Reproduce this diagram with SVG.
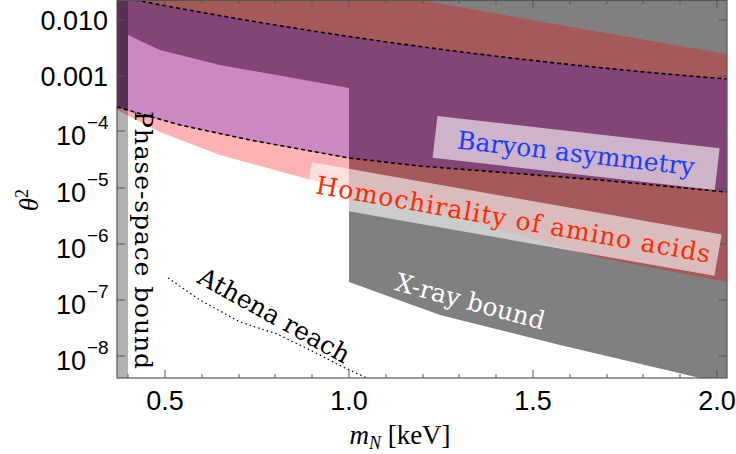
<svg xmlns="http://www.w3.org/2000/svg" width="736" height="454" viewBox="0 0 736 454">
<style>
.tk{font-family:"Liberation Sans",Arial,sans-serif;font-size:27px;fill:#000}
.ex{font-family:"Liberation Sans",Arial,sans-serif;font-size:19px;fill:#000}
.lb{font-family:"DejaVu Serif",serif;font-size:25px}
.t{stroke:#555;stroke-width:1}
.dash{fill:none;stroke:#000;stroke-width:1.6;stroke-dasharray:4,3}
</style>
<rect width="736" height="454" fill="#fff"/>
<g id="xray">
<path d="M117,0 L727,0 L727,378 L700,378 L560,345 L440,315 L349,282 L349,88 L220,65 L160,48 L128,35 L117,30 Z" fill="#808080"/>
</g>
<g id="homochirality">
<path d="M117,0 L420,0 Q560,25 727,54 L727,282 L600,258 L450,215 L349,190 L300,177 L220,155 L160,132 L117,110 Z" fill="#ff0000" fill-opacity="0.3"/>
</g>
<g id="baryon">
<path d="M135,0 Q420,55 727,79 L727,192 L600,180 L420,166 L349,158 L250,140 L180,125 L117,107 L117,0 Z" fill="#834478"/>
<path d="M128,35 L160,50 L220,65 L349,88 L349,158 L250,140 L180,125 L128,111 Z" fill="#cc88c0"/>
</g>
<g id="phase-space">
<rect x="117" y="0" width="11" height="378" fill="#000" fill-opacity="0.3"/>
</g>
<g id="connectors">
<path class="dash" d="M135,0 Q420,55 727,79"/>
<path class="dash" d="M117,107 L180,125 L250,140 L349,158 L420,166 L600,180 L727,192"/>
<path d="M168,278 L200,300 L240,322 L277,334 L310,350 L343,367 L367,378" fill="none" stroke="#000" stroke-width="1.2" stroke-dasharray="1.5,3"/>
</g>
<g id="frame">
<rect x="117" y="0.5" width="610" height="377.5" fill="none" stroke="#555" stroke-width="1.2"/>
<path class="t" d="M165,378v-8M349,378v-8M533,378v-8M717,378v-8M165,0v8M349,0v8M533,0v8M717,0v8
M202,378v-4M239,378v-4M275,378v-4M312,378v-4M386,378v-4M423,378v-4M459,378v-4M496,378v-4M570,378v-4M607,378v-4M643,378v-4M680,378v-4
M128,378v-4M202,0v4M239,0v4M275,0v4M312,0v4M386,0v4M423,0v4M459,0v4M496,0v4M570,0v4M607,0v4M643,0v4M680,0v4
M117,20h8M117,76h8M117,131h8M117,188h8M117,244h8M117,300h8M117,356h8
M727,20h-8M727,76h-8M727,131h-8M727,188h-8M727,244h-8M727,300h-8M727,356h-8"/>
</g>
<g id="axes-labels">
<text class="tk" x="108" y="30" text-anchor="end">0.010</text>
<text class="tk" x="108" y="86" text-anchor="end">0.001</text>
<text class="tk" x="86" y="145" text-anchor="end">10</text><text class="ex" x="87" y="129">−4</text>
<text class="tk" x="86" y="202" text-anchor="end">10</text><text class="ex" x="87" y="186">−5</text>
<text class="tk" x="86" y="258" text-anchor="end">10</text><text class="ex" x="87" y="242">−6</text>
<text class="tk" x="86" y="314" text-anchor="end">10</text><text class="ex" x="87" y="298">−7</text>
<text class="tk" x="86" y="370" text-anchor="end">10</text><text class="ex" x="87" y="354">−8</text>
<text class="tk" x="165" y="410" text-anchor="middle">0.5</text>
<text class="tk" x="349" y="410" text-anchor="middle">1.0</text>
<text class="tk" x="533" y="410" text-anchor="middle">1.5</text>
<text class="tk" x="717" y="410" text-anchor="middle">2.0</text>
<text x="400" y="444" text-anchor="middle" font-family="Liberation Serif,serif" font-size="27"><tspan font-style="italic">m</tspan><tspan font-style="italic" font-size="18" dy="5">N</tspan><tspan dy="-5"> [keV]</tspan></text>
<text transform="translate(38,200) rotate(-90)" text-anchor="middle" font-family="Liberation Serif,serif" font-size="27" font-style="italic">θ<tspan font-style="normal" font-size="18" dy="-10">2</tspan></text>
</g>
<g id="label-baryon" transform="translate(576,154) rotate(6.5)">
<rect x="-142" y="-22" width="284" height="42" fill="#ffffff" fill-opacity="0.6"/>
<text class="lb" x="0" y="8" text-anchor="middle" fill="#1a3cff">Baryon asymmetry</text>
</g>
<g id="label-homo" transform="translate(513,220) rotate(10)">
<rect x="-208" y="-22" width="416" height="42" fill="#ffffff" fill-opacity="0.6"/>
<text class="lb" x="0" y="8" text-anchor="middle" fill="#ff2a00" textLength="400">Homochirality of amino acids</text>
</g>
<g id="label-xray" transform="translate(470,302) rotate(15)">
<text class="lb" x="0" y="8" text-anchor="middle" fill="#fff">X-ray bound</text>
</g>
<g id="label-athena" transform="translate(274,316) rotate(29)">
<text class="lb" x="0" y="8" text-anchor="middle" fill="#000">Athena reach</text>
</g>
<g id="label-phase" transform="translate(143,240) rotate(90)">
<text class="lb" x="0" y="8" text-anchor="middle" fill="#000" textLength="258">Phase-space bound</text>
</g>
</svg>
